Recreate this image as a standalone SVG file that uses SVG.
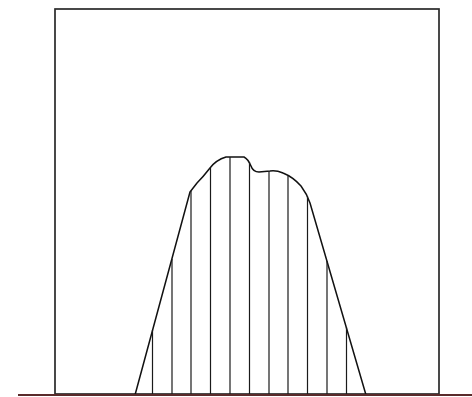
<svg xmlns="http://www.w3.org/2000/svg" width="472" height="397" viewBox="0 0 472 397">
<style>
.frame{fill:none;stroke:#2a2a2a;stroke-width:1.7}
.hill{fill:none;stroke:#111;stroke-width:1.5;stroke-linejoin:round}
.v{stroke:#1a1a1a;stroke-width:1.2}
.ground{stroke:#5a2b2b;stroke-width:2}
</style>
<rect width="472" height="397" fill="#fff"/>
<g id="frame"><rect class="frame" x="55" y="9" width="384" height="385"/></g>
<g id="hill">
<path class="hill" d="M135,395 L190,192 L197,183 Q203,177 210,168 Q216,160 226,157 L244,157 Q248,159 251,166 Q253,172 259,172 L270,171 Q276,170 283,173 Q293,177 301,186 Q307,194 310,203 L366,395"/>
</g>
<g id="lines">
<line class="v" x1="152.5" y1="395" x2="152.5" y2="330"/>
<line class="v" x1="172" y1="395" x2="172" y2="259"/>
<line class="v" x1="191" y1="395" x2="191" y2="191"/>
<line class="v" x1="210.5" y1="395" x2="210.5" y2="168"/>
<line class="v" x1="230" y1="395" x2="230" y2="157"/>
<line class="v" x1="249.5" y1="395" x2="249.5" y2="162"/>
<line class="v" x1="269" y1="395" x2="269" y2="171"/>
<line class="v" x1="288" y1="395" x2="288" y2="176"/>
<line class="v" x1="307.5" y1="395" x2="307.5" y2="196"/>
<line class="v" x1="327" y1="395" x2="327" y2="261"/>
<line class="v" x1="346.5" y1="395" x2="346.5" y2="327"/>
</g>
<g id="ground"><line class="ground" x1="18" y1="395" x2="472" y2="395"/></g>
</svg>
